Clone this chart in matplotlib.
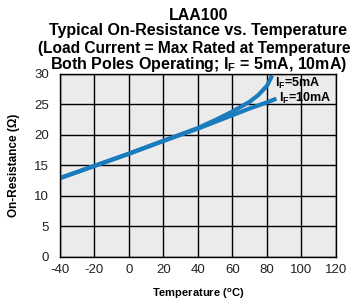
import matplotlib
matplotlib.use('Agg')
import matplotlib.pyplot as plt

# fonts
plt.rcParams['font.family'] = ['Liberation Sans', 'DejaVu Sans']
plt.rcParams['mathtext.fontset'] = 'custom'
plt.rcParams['mathtext.rm'] = 'Liberation Sans'
plt.rcParams['mathtext.bf'] = 'Liberation Sans:bold'
plt.rcParams['mathtext.it'] = 'Liberation Sans:italic'
plt.rcParams['axes.unicode_minus'] = False

# data
temp_10ma = [-40, -20, 0, 20, 40, 50, 60, 70, 80, 85.5]
res_10ma = [12.9, 14.9, 16.9, 19.0, 21.0, 22.1, 23.2, 24.3, 25.3, 25.9]

temp_5ma = [-40, -20, 0, 20, 40, 50, 60, 70, 75, 80, 83]
res_5ma = [12.9, 14.9, 16.9, 19.0, 21.1, 22.4, 23.8, 25.4, 26.5, 28.0, 29.7]

x_ticks = [-40, -20, 0, 20, 40, 60, 80, 100, 120]
y_ticks = [0, 5, 10, 15, 20, 25, 30]

line_color = '#1a7bbd'

fig = plt.figure(figsize=(3.57, 3.03), dpi=100)
ax = fig.add_axes([0.168, 0.152, 0.773, 0.605])
ax.set_facecolor('#ebebeb')

ax.plot(temp_10ma, res_10ma, color=line_color, lw=3, solid_capstyle='butt')
ax.plot(temp_5ma, res_5ma, color=line_color, lw=3, solid_capstyle='butt')

ax.set_xlim(-40, 120)
ax.set_ylim(0, 30)
ax.set_xticks(x_ticks)
ax.set_yticks(y_ticks)
ax.grid(True, color='black', lw=1)
ax.set_axisbelow(True)
ax.tick_params(length=0, labelsize=9.5, colors='#222222')
ax.tick_params(axis='y', pad=8)
ax.tick_params(axis='x', pad=5)
for s in ax.spines.values():
    s.set_color('black')
    s.set_linewidth(1)

ax.text(84.5, 28.4, r'I$_\mathbf{F}$=5mA', fontsize=9, fontweight='bold', va='center')
ax.text(87, 26.0, r'I$_\mathbf{F}$=10mA', fontsize=9, fontweight='bold', va='center')

ax.set_xlabel(r'Temperature ($^\mathbf{o}$C)', fontsize=8, fontweight='bold', labelpad=8)
ax.set_ylabel('On-Resistance (\u03a9)', fontsize=8.5, fontweight='bold', labelpad=10)

# title lines
title_lines = ['LAA100',
               'Typical On-Resistance vs. Temperature',
               '(Load Current = Max Rated at Temperature',
               r'Both Poles Operating; I$_\mathbf{F}$ = 5mA, 10mA)']
title_y = [15, 31, 48, 64]
title_size = [11.5, 11.5, 11.2, 11.5]
for line, yy, fs in zip(title_lines, title_y, title_size):
    xx = 0.555 if fs == 11.5 else 0.545
    fig.text(xx, 1 - yy / 303, line, ha='center', va='center',
             fontsize=fs, fontweight='bold')

fig.savefig('out.png', dpi=100)
